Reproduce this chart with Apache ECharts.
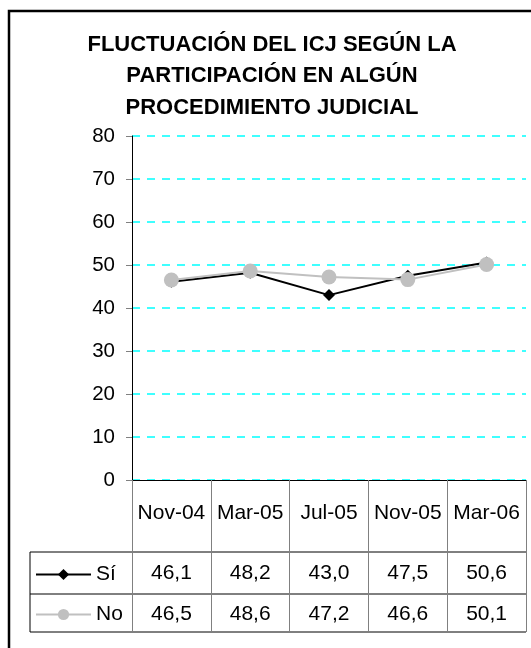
<!DOCTYPE html>
<html>
<head>
<meta charset="utf-8">
<script src="https://cdn.jsdelivr.net/npm/echarts@6/dist/echarts.min.js"></script>
<style>
  html, body { margin: 0; padding: 0; background: #fff; }
  #main { width: 531px; height: 648px; }
</style>
</head>
<body>
<div id="main"></div>
<script>
// data
const categories = ['Nov-04', 'Mar-05', 'Jul-05', 'Nov-05', 'Mar-06'];
const siValues = [46.1, 48.2, 43.0, 47.5, 50.6];
const noValues = [46.5, 48.6, 47.2, 46.6, 50.1];
const yMin = 0, yMax = 80, yStep = 10;

const FONT = '"Liberation Sans", Arial, sans-serif';
const fmt = v => v.toFixed(1).replace('.', ',');

const chart = echarts.init(document.getElementById('main'));

// table lines below the plot (layout only)
const tblLeft = 30, tblRight = 526;
const rowLines = [552, 594, 632];

const legendBase = {
  left: 35,
  padding: 0,
  selectedMode: false,
  itemWidth: 55,
  itemHeight: 14,
  textStyle: { fontFamily: FONT, fontSize: 21, color: '#000' }
};

const option = {
  animation: false,
  backgroundColor: '#fff',
  title: {
    text: 'FLUCTUACIÓN DEL ICJ SEGÚN LA\nPARTICIPACIÓN EN ALGÚN\nPROCEDIMIENTO JUDICIAL',
    left: 272,
    textAlign: 'center',
    top: 29,
    padding: 0,
    textStyle: {
      fontFamily: FONT,
      fontSize: 22,
      fontWeight: 'bold',
      color: '#000',
      lineHeight: 31.5
    }
  },
  legend: [
    Object.assign({ data: ['Sí'], top: 564 }, legendBase),
    Object.assign({ data: ['No'], top: 604 }, legendBase)
  ],
  grid: { left: 132, right: 5, top: 136, bottom: 168 },
  xAxis: {
    type: 'category',
    data: categories,
    boundaryGap: true,
    axisLine: { lineStyle: { color: '#000', width: 1 } },
    axisTick: { show: true, length: 152, lineStyle: { color: '#808080' } },
    axisLabel: {
      interval: 0,
      margin: 3,
      color: '#000',
      fontFamily: FONT,
      fontSize: 21,
      formatter: function (v, i) {
        return '{c|' + v + '}\n{s|' + fmt(siValues[i]) + '}\n{n|' + fmt(noValues[i]) + '}';
      },
      rich: {
        c: { fontFamily: FONT, fontSize: 21, color: '#000', lineHeight: 60 },
        s: { fontFamily: FONT, fontSize: 21, color: '#000', lineHeight: 61 },
        n: { fontFamily: FONT, fontSize: 21, color: '#000', lineHeight: 20 }
      }
    }
  },
  yAxis: {
    type: 'value',
    min: yMin,
    max: yMax,
    interval: yStep,
    axisLine: { show: true, lineStyle: { color: '#000', width: 1 } },
    axisTick: { show: true, length: 6, lineStyle: { color: '#808080' } },
    axisLabel: { margin: 17, color: '#000', fontFamily: FONT, fontSize: 20.5 },
    splitLine: { show: true, lineStyle: { color: '#00ffff', type: [8, 7], width: 1.6 } }
  },
  series: [
    {
      name: 'Sí',
      type: 'line',
      data: siValues,
      symbol: 'diamond',
      symbolSize: 12,
      itemStyle: { color: '#000' },
      lineStyle: { color: '#000', width: 2 }
    },
    {
      name: 'No',
      type: 'line',
      data: noValues,
      symbol: 'circle',
      symbolSize: 15,
      itemStyle: { color: '#c0c0c0' },
      lineStyle: { color: '#c0c0c0', width: 2 }
    }
  ],
  graphic: [
    {
      type: 'rect',
      shape: { x: 9, y: 11, width: 700, height: 800 },
      style: { fill: null, stroke: '#000', lineWidth: 2.5 },
      silent: true
    },
    ...rowLines.map(y => ({
      type: 'line',
      shape: { x1: tblLeft, y1: y, x2: tblRight, y2: y },
      style: { stroke: '#000', lineWidth: 1 },
      silent: true
    })),
    {
      type: 'line',
      shape: { x1: tblLeft, y1: rowLines[0], x2: tblLeft, y2: rowLines[2] },
      style: { stroke: '#000', lineWidth: 1 },
      silent: true
    }
  ]
};

chart.setOption(option);
</script>
</body>
</html>
